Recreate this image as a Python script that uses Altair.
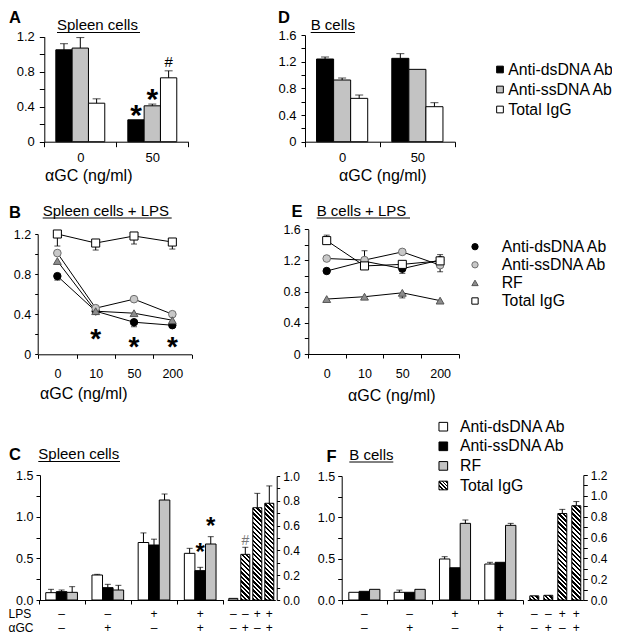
import math
import altair as alt
import pandas as pd

FONT = "Liberation Sans"
W, H = 604, 626
M = 8
GRAY = "#c3c3c3"


def X(v):
    return round(v - M, 2)


def Y(v):
    return round(v - M, 2)


# ===================== values =====================
# Panels A and D (bars)
ad_groups = ["0", "50"]
ad_series = ["Anti-dsDNA Ab", "Anti-ssDNA Ab", "Total IgG"]
ad_colors = ["black", GRAY, "white"]

a_ds = [1.05, 0.25]
a_ss = [1.07, 0.41]
a_igg = [0.44, 0.73]
a_ds_err = [0.07, 0.0]
a_ss_err = [0.12, 0.02]
a_igg_err = [0.05, 0.08]
a_star_g = ["50", "50"]
a_star_s = ["Anti-dsDNA Ab", "Anti-ssDNA Ab"]
a_star_y = [0.385, 0.571]
a_hash_g = ["50"]
a_hash_s = ["Total IgG"]
a_hash_y = [0.914]

d_ds = [1.24, 1.25]
d_ss = [0.925, 1.085]
d_igg = [0.65, 0.525]
d_ds_err = [0.03, 0.07]
d_ss_err = [0.03, 0.0]
d_igg_err = [0.05, 0.06]

# Panels B and E (lines)
be_x = ["0", "10", "50", "200"]
be_series = ["Anti-dsDNA Ab", "Anti-ssDNA Ab", "RF", "Total IgG"]
be_shapes = ["circle", "circle", "triangle-up", "square"]
be_fill = ["black", "#c8c8c8", "#8c8c8c", "white"]
be_stroke = ["black", "#6e6e6e", "#555555", "black"]
be_size = [55, 65, 60, 85]

b_ds = [0.78, 0.43, 0.32, 0.29]
b_ss = [1.01, 0.46, 0.55, 0.40]
b_rf = [0.93, 0.43, 0.41, 0.34]
b_igg = [1.20, 1.11, 1.18, 1.12]
b_ds_err = [-0.04, 0.0, -0.045, -0.02]
b_ss_err = [0.0, 0.0, 0.0, 0.0]
b_rf_err = [0.0, 0.0, 0.0, 0.0]
b_igg_err = [-0.12, -0.07, -0.08, -0.07]
b_star_x = ["10", "50", "200"]
b_star_y = [0.225, 0.143, 0.143]

e_ds = [1.065, 1.19, 1.095, 1.205]
e_ss = [1.225, 1.205, 1.31, 1.14]
e_rf = [0.705, 0.735, 0.785, 0.685]
e_igg = [1.455, 1.13, 1.15, 1.195]
e_ds_err = [0.0, 0.0, -0.06, 0.0]
e_ss_err = [0.0, 0.12, 0.03, -0.085]
e_rf_err = [0.0, 0.0, -0.065, 0.0]
e_igg_err = [0.07, 0.0, 0.0, 0.08]

# Panels C and F (bars, LPS / aGC conditions)
cf_groups = ["1", "2", "3", "4"]
cf_series = ["Anti-dsDNA Ab", "Anti-ssDNA Ab", "RF"]
cf_colors = ["white", "black", GRAY]
cf_lps = ["–", "–", "+", "+"]
cf_agc = ["–", "+", "–", "+"]
igg_cats = ["1", "2", "3", "4"]
igg_lps = ["–", "–", "+", "+"]
igg_agc = ["–", "+", "–", "+"]

c_ds = [0.088, 0.30, 0.69, 0.56]
c_ss = [0.10, 0.148, 0.66, 0.352]
c_rf = [0.092, 0.12, 1.20, 0.672]
c_ds_err = [0.04, 0.008, 0.115, 0.06]
c_ss_err = [0.02, 0.04, 0.07, 0.04]
c_rf_err = [0.068, 0.056, 0.072, 0.088]
c_igg = [0.013, 0.368, 0.744, 0.78]
c_igg_err = [0.005, 0.057, 0.116, 0.14]
c_star_g = ["4", "4"]
c_star_s = ["Anti-ssDNA Ab", "RF"]
c_star_y = [0.648, 0.96]
c_hash_c = ["2"]
c_hash_y = [0.484]

f_ds = [0.093, 0.093, 0.496, 0.435]
f_ss = [0.105, 0.093, 0.39, 0.456]
f_rf = [0.129, 0.129, 0.927, 0.903]
f_ds_err = [0.0, 0.027, 0.028, 0.021]
f_ss_err = [0.0, 0.0, 0.0, 0.0]
f_rf_err = [0.0, 0.0, 0.041, 0.024]
f_igg = [0.04, 0.045, 0.83, 0.905]
f_igg_err = [0.0, 0.0, 0.04, 0.04]

legend_d = ["Anti-dsDNA Ab", "Anti-ssDNA Ab", "Total IgG"]
legend_e = ["Anti-dsDNA Ab", "Anti-ssDNA Ab", "RF", "Total IgG"]
legend_f = ["Anti-dsDNA Ab", "Anti-ssDNA Ab", "RF", "Total IgG"]

# ===================== helpers =====================
EXPR_04 = "round(datum.value*10) % 4 == 0 ? format(datum.value, '~g') : ''"
EXPR_05 = "round(datum.value*4) % 2 == 0 ? format(datum.value, '.1f') : ''"
EXPR_02 = "round(datum.value*10) % 2 == 0 ? format(datum.value, '.1f') : ''"


def yax(orient, xpos, values, expr, size=13, tick=4, pad=4):
    off = -X(xpos) if orient == "left" else X(xpos) - W
    return alt.Axis(orient=orient, offset=off, values=values, labelExpr=expr,
                    tickSize=tick, labelPadding=pad, labelFont=FONT, labelFontSize=size,
                    labelColor="black", domainColor="black", tickColor="black",
                    domainWidth=1, tickWidth=1, grid=False, labelFlush=False,
                    labelOverlap=False)


def xax(ypos, labels=True, ticks=True, size=13, pad=7, tick=4):
    return alt.Axis(orient="bottom", offset=Y(ypos) - H, tickBand="extent",
                    labels=labels, ticks=ticks, tickSize=tick, labelPadding=pad,
                    labelAngle=0, labelFont=FONT, labelFontSize=size, labelColor="black",
                    domainColor="black", tickColor="black", domainWidth=1, tickWidth=1,
                    grid=False, labelFlush=False)


def hatch(w, h, period=3.2, frac=0.5):
    k = (w + h) / (w * w + h * h)
    n = (w + h) / (period * math.sqrt(2))
    stops = []
    j = 0
    while j < n:
        t0 = round(min(j / n, 1), 4)
        tm = round(min((j + frac) / n, 1), 4)
        t1 = round(min((j + 1) / n, 1), 4)
        stops += [{"offset": t0, "color": "black"}, {"offset": tm, "color": "black"},
                  {"offset": tm, "color": "white"}, {"offset": t1, "color": "white"}]
        j += 1
    return {"gradient": "linear", "x1": 0, "y1": 1, "x2": round(k * w, 4),
            "y2": round(1 - k * h, 4), "stops": stops}


def grouped(groups, series, colors, vals, errs, xr, off_pad, yr, ydom, xaxis, yaxis, cap):
    rows = []
    for s, vs, es in zip(series, vals, errs):
        for g, v, e in zip(groups, vs, es):
            rows.append({"g": g, "s": s, "v": v, "e": e, "top": v + e})
    df = pd.DataFrame(rows)
    xs = alt.Scale(type="band", domain=groups, range=[X(xr[0]), X(xr[1])],
                   paddingInner=0, paddingOuter=0)
    os_ = alt.Scale(type="band", domain=series, paddingInner=0, paddingOuter=off_pad)
    ys = alt.Scale(domain=ydom, range=[Y(yr[0]), Y(yr[1])], nice=False)

    def enc(ax_x=None, ax_y=None, yfield="v"):
        return dict(x=alt.X("g:N", scale=xs, axis=ax_x, title=None),
                    xOffset=alt.XOffset("s:N", scale=os_),
                    y=alt.Y(f"{yfield}:Q", scale=ys, axis=ax_y, title=None))

    bars = alt.Chart(df).mark_bar(stroke="black", strokeWidth=1).encode(
        fill=alt.Fill("s:N", scale=alt.Scale(domain=series, range=colors), legend=None),
        **enc(xaxis, yaxis))
    ed = df[df["e"] != 0]
    rule = alt.Chart(ed).mark_rule(color="black", strokeWidth=1).encode(y2="top:Q", **enc())
    caps = alt.Chart(ed).mark_tick(color="black", thickness=1, size=cap).encode(**enc(yfield="top"))
    return [bars, rule, caps], enc


def line_panel(xcats, series, vals, errs, xr, yr, ydom, xaxis, yaxis, cap=6):
    rows = []
    for s, vs, es in zip(series, vals, errs):
        for i, (c, v, e) in enumerate(zip(xcats, vs, es)):
            rows.append({"x": c, "i": i, "s": s, "v": v, "e": e, "top": v + e})
    df = pd.DataFrame(rows)
    xs = alt.Scale(type="band", domain=xcats, range=[X(xr[0]), X(xr[1])],
                   paddingInner=0, paddingOuter=0)
    ys = alt.Scale(domain=ydom, range=[Y(yr[0]), Y(yr[1])], nice=False)

    def xe(ax=None):
        return alt.X("x:N", scale=xs, axis=ax, title=None)

    def ye(f="v", ax=None):
        return alt.Y(f + ":Q", scale=ys, axis=ax, title=None)

    line = alt.Chart(df).mark_line(color="black", strokeWidth=1).encode(
        x=xe(xaxis), y=ye("v", yaxis), detail="s:N", order="i:Q")
    ed = df[df["e"] != 0]
    rule = alt.Chart(ed).mark_rule(color="black", strokeWidth=1).encode(x=xe(), y=ye(), y2="top:Q")
    caps = alt.Chart(ed).mark_tick(color="black", thickness=1, size=cap).encode(x=xe(), y=ye("top"))
    pts = alt.Chart(df).mark_point(filled=True, opacity=1, strokeWidth=1).encode(
        x=xe(), y=ye(),
        shape=alt.Shape("s:N", scale=alt.Scale(domain=series, range=be_shapes), legend=None),
        fill=alt.Fill("s:N", scale=alt.Scale(domain=series, range=be_fill), legend=None),
        stroke=alt.Stroke("s:N", scale=alt.Scale(domain=series, range=be_stroke), legend=None),
        size=alt.Size("s:N", scale=alt.Scale(domain=series, range=be_size), legend=None))
    return [line, rule, caps, pts], xe, ye


def igg_bars(cats, vals, errs, xr, pin, yr, ydom, xaxis, yaxis, cap=6):
    xs = alt.Scale(type="band", domain=cats, range=[X(xr[0]), X(xr[1])],
                   paddingInner=pin, paddingOuter=pin / 2)
    ys = alt.Scale(domain=ydom, range=[Y(yr[0]), Y(yr[1])], nice=False)
    step = (xr[1] - xr[0]) / len(cats)
    bw = step * (1 - pin)
    unit = (yr[0] - yr[1]) / (ydom[1] - ydom[0])

    def xe(ax=None):
        return alt.X("c:N", scale=xs, axis=ax, title=None)

    def ye(f="v", ax=None):
        return alt.Y(f + ":Q", scale=ys, axis=ax, title=None)

    layers = []
    for i, (c, v, e) in enumerate(zip(cats, vals, errs)):
        h = v * unit
        fill = hatch(bw, h) if h > 3.5 else "white"
        d1 = pd.DataFrame({"c": [c], "v": [v]})
        layers.append(alt.Chart(d1).mark_bar(fill=fill, stroke="black", strokeWidth=1).encode(
            x=xe(xaxis if i == 0 else None), y=ye("v", yaxis if i == 0 else None)))
    df = pd.DataFrame({"c": cats, "v": vals, "e": errs})
    df["top"] = df["v"] + df["e"]
    ed = df[df["e"] > 0.01]
    layers.append(alt.Chart(ed).mark_rule(color="black", strokeWidth=1).encode(x=xe(), y=ye(), y2="top:Q"))
    layers.append(alt.Chart(ed).mark_tick(color="black", thickness=1, size=cap).encode(x=xe(), y=ye("top")))
    return layers, xe, ye


def text_layer(s, x, y, size, weight="normal", baseline="alphabetic", align="left", color="black"):
    d1 = pd.DataFrame({"t": [s]})
    return alt.Chart(d1).mark_text(align=align, baseline=baseline, font=FONT, fontSize=size,
                                   fontWeight=weight, color=color).encode(
        x=alt.value(X(x)), y=alt.value(Y(y)), text="t:N")


def underline(x0, x1, y):
    return alt.Chart(pd.DataFrame({"t": [0]})).mark_rule(color="black", strokeWidth=1).encode(
        x=alt.value(X(x0)), x2=alt.value(X(x1)), y=alt.value(Y(y)))


layers = []

# ---------------- Panel A ----------------
la, enc_a = grouped(ad_groups, ad_series, ad_colors, [a_ds, a_ss, a_igg],
                    [a_ds_err, a_ss_err, a_igg_err], [44.3, 188.3], 0.706,
                    [141.7, 36.7], [0, 1.2], xax(141.7, size=13, pad=5, tick=5),
                    yax("left", 44.3, [0, 0.2, 0.4, 0.6, 0.8, 1.0, 1.2], EXPR_04, 13, 5, 5), 8)
layers += la
sa = pd.DataFrame({"g": a_star_g, "s": a_star_s, "v": a_star_y})
layers.append(alt.Chart(sa).mark_text(text="*", font=FONT, fontSize=30, fontWeight="bold",
                                      baseline="alphabetic", dy=17).encode(**enc_a()))
ha = pd.DataFrame({"g": a_hash_g, "s": a_hash_s, "v": a_hash_y})
layers.append(alt.Chart(ha).mark_text(text="#", font=FONT, fontSize=15,
                                      baseline="alphabetic", dy=5.4).encode(**enc_a()))

# ---------------- Panel D ----------------
ld, _ = grouped(ad_groups, ad_series, ad_colors, [d_ds, d_ss, d_igg],
                [d_ds_err, d_ss_err, d_igg_err], [304.5, 455], 0.706,
                [141.7, 35], [0, 1.6], xax(141.7, size=13, pad=5, tick=5),
                yax("left", 305, [0, 0.2, 0.4, 0.6, 0.8, 1.0, 1.2, 1.4, 1.6], EXPR_04, 13, 4, 5), 8)
layers += ld

# ---------------- Panel B ----------------
lb, xe_b, ye_b = line_panel(be_x, be_series, [b_ds, b_ss, b_rf, b_igg],
                            [b_ds_err, b_ss_err, b_rf_err, b_igg_err],
                            [38.2, 191.5], [354.3, 234], [0, 1.2],
                            xax(354.3, size=12.5, pad=9, tick=4),
                            yax("left", 37.7, [0, 0.2, 0.4, 0.6, 0.8, 1.0, 1.2], EXPR_04, 12.5, 3, 4))
layers += lb
sb = pd.DataFrame({"x": b_star_x, "v": b_star_y})
layers.append(alt.Chart(sb).mark_text(text="*", font=FONT, fontSize=28, fontWeight="bold",
                                      baseline="alphabetic", dy=16).encode(x=xe_b(), y=ye_b()))

# ---------------- Panel E ----------------
le, _, _ = line_panel(be_x, be_series, [e_ds, e_ss, e_rf, e_igg],
                      [e_ds_err, e_ss_err, e_rf_err, e_igg_err],
                      [307.8, 459], [354, 229.3], [0, 1.6],
                      xax(354, size=12.5, pad=9, tick=4),
                      yax("left", 308.3, [0, 0.2, 0.4, 0.6, 0.8, 1.0, 1.2, 1.4, 1.6], EXPR_04, 12.5, 4, 4))
layers += le

# ---------------- Panel C ----------------
lc, enc_c = grouped(cf_groups, cf_series, cf_colors, [c_ds, c_ss, c_rf],
                    [c_ds_err, c_ss_err, c_rf_err], [38.5, 223.3], 0.687,
                    [600, 475], [0, 1.5], xax(600, labels=False, tick=4),
                    yax("left", 40, [0, 0.25, 0.5, 0.75, 1.0, 1.25, 1.5], EXPR_05, 12.5, 4, 3), 6)
layers += lc
lci, xe_ci, ye_ci = igg_bars(igg_cats, c_igg, c_igg_err, [227.3, 275.3], 0.25, [600, 476], [0, 1.0],
                             xax(600, labels=False, ticks=False),
                             yax("right", 276.7, [0, 0.1, 0.2, 0.3, 0.4, 0.5, 0.6, 0.7, 0.8, 0.9, 1.0],
                                 EXPR_02, 12, 3, 3))
layers += lci
sc = pd.DataFrame({"g": c_star_g, "s": c_star_s, "v": c_star_y})
layers.append(alt.Chart(sc).mark_text(text="*", font=FONT, fontSize=24, fontWeight="bold",
                                      baseline="alphabetic", dy=14).encode(**enc_c()))
hc = pd.DataFrame({"c": c_hash_c, "v": c_hash_y})
layers.append(alt.Chart(hc).mark_text(text="#", font=FONT, fontSize=14, color="#777777",
                                      baseline="alphabetic", dy=5).encode(x=xe_ci(), y=ye_ci()))

# ---------------- Panel F ----------------
lf, enc_f = grouped(cf_groups, cf_series, cf_colors, [f_ds, f_ss, f_rf],
                    [f_ds_err, f_ss_err, f_rf_err], [341.7, 523], 0.687,
                    [600, 476], [0, 1.5], xax(600, labels=False, tick=4),
                    yax("left", 341.7, [0, 0.25, 0.5, 0.75, 1.0, 1.25, 1.5], EXPR_05, 12.5, 4, 3), 6)
layers += lf
lfi, xe_fi, ye_fi = igg_bars(igg_cats, f_igg, f_igg_err, [527.3, 583.3], 0.36, [600, 475], [0, 1.2],
                             xax(600, labels=False, ticks=False),
                             yax("right", 583.3,
                                 [0, 0.1, 0.2, 0.3, 0.4, 0.5, 0.6, 0.7, 0.8, 0.9, 1.0, 1.1, 1.2],
                                 EXPR_02, 12, 4, 3))
layers += lfi


# sign rows under C and F
def sign_rows(xenc_fn, field, cats, lps, agc, y_lps, y_agc):
    out = []
    for vals, yy in ((lps, y_lps), (agc, y_agc)):
        d1 = pd.DataFrame({field: cats, "t": vals})
        out.append(alt.Chart(d1).mark_text(font=FONT, fontSize=12, baseline="middle").encode(
            x=xenc_fn, y=alt.value(Y(yy)), text="t:N"))
    return out


ROW1, ROW2 = 613.5, 627.5
xs_c = alt.Scale(type="band", domain=cf_groups, range=[X(38.5), X(223.3)], paddingInner=0, paddingOuter=0)
xs_f = alt.Scale(type="band", domain=cf_groups, range=[X(341.7), X(523)], paddingInner=0, paddingOuter=0)
layers += sign_rows(alt.X("g:N", scale=xs_c, axis=None), "g", cf_groups, cf_lps, cf_agc, ROW1, ROW2)
layers += sign_rows(xe_ci(), "c", igg_cats, igg_lps, igg_agc, ROW1, ROW2)
layers += sign_rows(alt.X("g:N", scale=xs_f, axis=None), "g", cf_groups, cf_lps, cf_agc, ROW1, ROW2)
layers += sign_rows(xe_fi(), "c", igg_cats, igg_lps, igg_agc, ROW1, ROW2)
layers.append(text_layer("LPS", 8.5, ROW1, 12, baseline="middle"))
layers.append(text_layer("αGC", 8.5, ROW2, 12, baseline="middle"))


# ---------------- legends ----------------
def leg_scale(labels, y0, y1):
    return alt.Scale(type="point", domain=labels, range=[Y(y0), Y(y1)], padding=0)


def leg_text(labels, xt, ys):
    d1 = pd.DataFrame({"s": labels})
    return alt.Chart(d1).mark_text(align="left", baseline="middle", font=FONT, fontSize=15.8).encode(
        x=alt.value(X(xt)), y=alt.Y("s:N", scale=ys, axis=None), text="s:N")


ys_d = leg_scale(legend_d, 69.5, 109.5)
layers.append(alt.Chart(pd.DataFrame({"s": legend_d})).mark_square(
    filled=True, size=45, stroke="black", strokeWidth=1, opacity=1).encode(
    x=alt.value(X(500)), y=alt.Y("s:N", scale=ys_d, axis=None),
    fill=alt.Fill("s:N", scale=alt.Scale(domain=legend_d, range=ad_colors), legend=None)))
layers.append(leg_text(legend_d, 508.3, ys_d))

ys_e = leg_scale(legend_e, 246.7, 301)
layers.append(alt.Chart(pd.DataFrame({"s": legend_e})).mark_point(
    filled=True, opacity=1, strokeWidth=1).encode(
    x=alt.value(X(475)), y=alt.Y("s:N", scale=ys_e, axis=None),
    shape=alt.Shape("s:N", scale=alt.Scale(domain=legend_e, range=be_shapes), legend=None),
    fill=alt.Fill("s:N", scale=alt.Scale(domain=legend_e, range=be_fill), legend=None),
    stroke=alt.Stroke("s:N", scale=alt.Scale(domain=legend_e, range=be_stroke), legend=None),
    size=alt.Size("s:N", scale=alt.Scale(domain=legend_e, range=[40, 40, 40, 40]), legend=None)))
layers.append(leg_text(legend_e, 501.7, ys_e))

ys_f = leg_scale(legend_f, 426.7, 485.5)
layers.append(alt.Chart(pd.DataFrame({"s": legend_f[:3]})).mark_square(
    filled=True, size=75, stroke="black", strokeWidth=1, opacity=1).encode(
    x=alt.value(X(443.3)), y=alt.Y("s:N", scale=ys_f, axis=None),
    fill=alt.Fill("s:N", scale=alt.Scale(domain=legend_f[:3], range=cf_colors), legend=None)))
layers.append(alt.Chart(pd.DataFrame({"s": legend_f[3:]})).mark_square(
    fill=hatch(8.7, 8.7, period=2.6), size=75, stroke="black", strokeWidth=1, opacity=1).encode(
    x=alt.value(X(443.3)), y=alt.Y("s:N", scale=ys_f, axis=None)))
layers.append(leg_text(legend_f, 460, ys_f))

# ---------------- panel letters, titles ----------------
for letter, x, y in (("A", 9, 18), ("D", 278, 18), ("B", 9, 212.5),
                     ("E", 291.5, 212), ("C", 9, 455), ("F", 326.5, 456.5)):
    layers.append(text_layer(letter, x, y, 16.5, weight="bold", baseline="middle"))

for title, x0, x1, yb, yu in (("Spleen cells", 57, 140, 29.5, 32.5),
                              ("B cells", 310.7, 355, 29.5, 32.5),
                              ("Spleen cells + LPS", 42.7, 171.7, 215.5, 218),
                              ("B cells + LPS", 316.7, 410, 215.5, 218),
                              ("Spleen cells", 38.3, 120, 459, 461.5),
                              ("B cells", 349.3, 393.3, 459.5, 462)):
    layers.append(text_layer(title, x0, yb, 15))
    layers.append(underline(x0, x1, yu))

for x, y in ((45, 175.5), (339, 176), (40, 393.5), (348, 395.5)):
    layers.append(text_layer("αGC (ng/ml)", x, y, 16, baseline="middle"))

chart = alt.layer(*layers).resolve_scale(
    x="independent", y="independent", xOffset="independent", fill="independent",
    stroke="independent", shape="independent", size="independent"
).properties(
    width=W, height=H, autosize=alt.AutoSizeParams(type="none"), padding=0
).configure_view(stroke=None)

chart.save("out.html", embed_options={"renderer": "svg", "actions": False})
